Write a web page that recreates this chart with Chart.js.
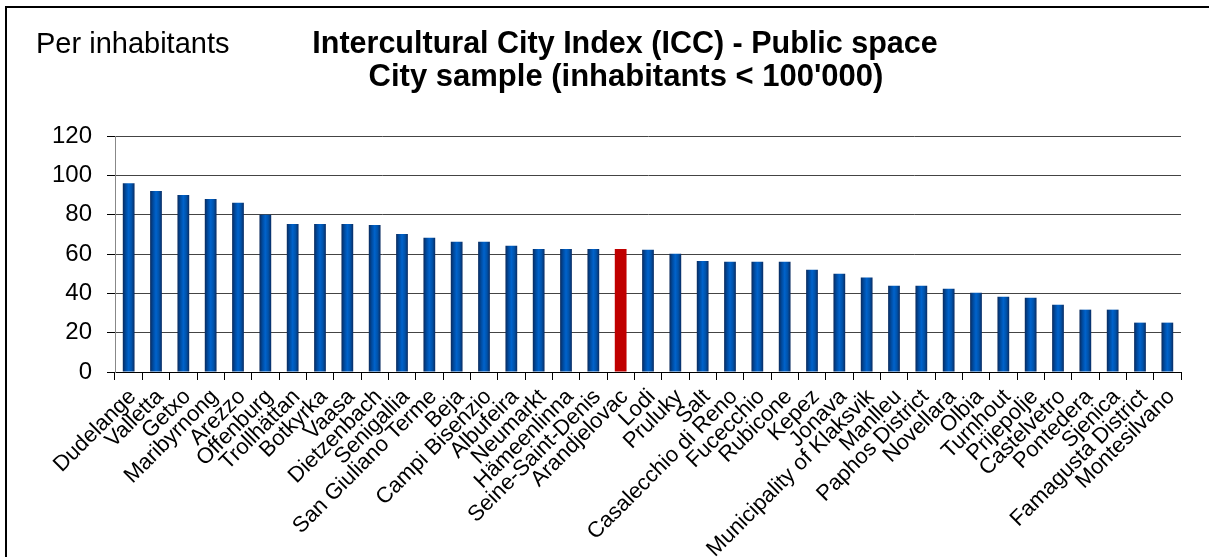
<!DOCTYPE html>
<html>
<head>
<meta charset="utf-8">
<script src="https://cdn.jsdelivr.net/npm/chart.js@4/dist/chart.umd.min.js"></script>
<style>
html,body{margin:0;padding:0;background:#fff;}
#wrap{width:1209px;height:557px;position:relative;}
</style>
</head>
<body>
<div id="wrap"><canvas id="c" width="1209" height="557"></canvas></div>
<script>
const cities = ["Dudelange","Valletta","Getxo","Maribyrnong","Arezzo","Offenburg","Trollhättan","Botkyrka","Vaasa","Dietzenbach","Senigallia","San Giuliano Terme","Beja","Campi Bisenzio","Albufeira","Neumarkt","Hämeenlinna","Seine-Saint-Denis","Arandjelovac","Lodi","Pruluky","Salt","Casalecchio di Reno","Fucecchio","Rubicone","Kepez","Jonava","Municipality of Klaksvik","Manlleu","Paphos District","Novellara","Olbia","Turnhout","Prijepolje","Castelvetro","Pontedera","Sjenica","Famagusta District","Montesilvano"];
const scores = [96,92,90,88,86,80,75.3,75.3,75.3,74.8,70.2,68.2,66.2,66.2,64.2,62.6,62.6,62.6,62.6,62.1,60.1,56.5,56,56,56,52,50,48,43.8,43.8,42.3,40.3,38.3,37.7,34.2,31.7,31.7,25.1,25.1];
const highlightCity = "Arandjelovac";
const yTicks = [0,20,40,60,80,100,120];
const titleLines = ["Intercultural City Index (ICC) - Public space","City sample (inhabitants < 100'000)"];
const cornerText = "Per inhabitants";

const FONT = '"Liberation Sans", Arial, sans-serif';
const BAR_PCT = 0.43;
function barColor(ctx){
  const chart = ctx.chart;
  if (cities[ctx.dataIndex] === highlightCity) return '#c00000';
  const xs = chart.scales && chart.scales.x;
  if (!xs || !chart.chartArea) return '#0058b8';
  const cx = xs.getPixelForValue(ctx.dataIndex);
  const w = (xs.width / cities.length) * BAR_PCT;
  const g = chart.ctx.createLinearGradient(cx - w/2, 0, cx + w/2, 0);
  g.addColorStop(0, '#0a2a5c');
  g.addColorStop(0.25, '#004a9e');
  g.addColorStop(0.5, '#0063cc');
  g.addColorStop(0.75, '#0052aa');
  g.addColorStop(1, '#0a2c62');
  return g;
}

const framePlugin = {
  id: 'frame',
  beforeDraw(chart){
    const c = chart.ctx;
    c.save();
    c.fillStyle = '#fff';
    c.fillRect(0,0,chart.width,chart.height);
    c.restore();
  },
  afterDraw(chart){
    const c = chart.ctx;
    c.save();
    c.strokeStyle = '#000';
    c.lineWidth = 2;
    c.beginPath();
    c.moveTo(6, chart.height);
    c.lineTo(6, 7);
    c.lineTo(chart.width, 7);
    c.stroke();
    c.fillStyle = '#000';
    c.textBaseline = 'middle';
    c.textAlign = 'left';
    c.font = '29px ' + FONT;
    c.fillText(cornerText, 36, 45);
    c.textAlign = 'center';
    c.font = 'bold 30.5px ' + FONT;
    c.fillText(titleLines[0], 625, 45);
    c.font = 'bold 31px ' + FONT;
    c.fillText(titleLines[1], 626, 77);
    c.restore();
  }
};

new Chart(document.getElementById('c'), {
  type: 'bar',
  data: {
    labels: cities,
    datasets: [{
      data: scores,
      backgroundColor: barColor,
      borderWidth: 0,
      barPercentage: BAR_PCT,
      categoryPercentage: 1
    }]
  },
  options: {
    responsive: false,
    animation: false,
    layout: { padding: { left: 0, right: 28, top: 136, bottom: 0 } },
    plugins: {
      legend: { display: false },
      tooltip: { enabled: false },
      title: { display: false }
    },
    scales: {
      x: {
        offset: true,
        grid: { display: true, drawOnChartArea: false, offset: true, tickLength: 8, tickColor: '#000', tickWidth: 1 },
        border: { display: true, color: '#000', width: 1 },
        ticks: {
          color: '#000',
          font: { family: FONT, size: 22 },
          maxRotation: 45, minRotation: 45, autoSkip: false, padding: 4, labelOffset: 4
        },
        afterFit(s){ s.height = 185; }
      },
      y: {
        min: 0, max: 120,
        afterBuildTicks(s){ s.ticks = yTicks.map(v => ({ value: v })); },
        grid: { color: '#444', borderDash: [1,1], lineWidth: 1, tickLength: 8, tickColor: '#000', tickBorderDash: [] },
        border: { display: true, color: '#888', width: 1 },
        ticks: { color: '#000', font: { family: FONT, size: 24 }, padding: 15 },
        afterFit(s){ s.width = 115; }
      }
    }
  },
  plugins: [framePlugin]
});
</script>
</body>
</html>
